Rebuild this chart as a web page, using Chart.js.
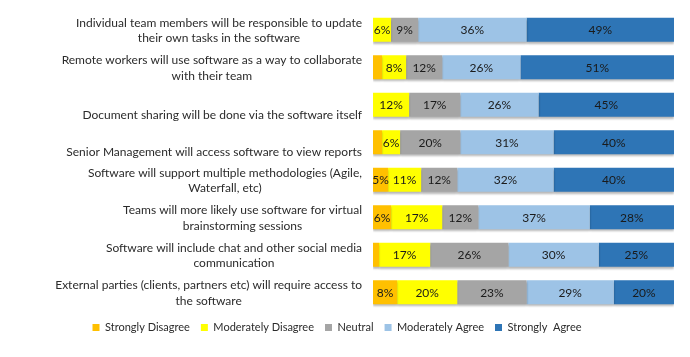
<!DOCTYPE html>
<html><head><meta charset="utf-8">
<script src="https://cdn.jsdelivr.net/npm/chart.js@4.4.0/dist/chart.umd.min.js"></script>
<style>html,body{margin:0;padding:0;background:#fff}#wrap{width:690px;height:357px;position:relative}</style>
</head><body><div id="wrap"><canvas id="c"></canvas></div>
<script>
const categories = [
  ["Individual team members will be responsible to update", "their own tasks in the software"],
  ["Remote workers will use software as a way to collaborate", "with their team"],
  ["Document sharing will be done via the software itself"],
  ["Senior Management will access software to view reports"],
  ["Software will support multiple methodologies (Agile,", "Waterfall, etc)"],
  ["Teams will more likely use software for virtual", "brainstorming sessions"],
  ["Software will include chat and other social media", "communication"],
  ["External parties (clients, partners etc) will require access to", "the software"]
];
const seriesNames = ["Strongly Disagree", "Moderately Disagree", "Neutral", "Moderately Agree", "Strongly  Agree"];
const stronglyDisagree   = [0, 3, 0, 3, 5, 6, 2, 8];
const moderatelyDisagree = [6, 8, 12, 6, 11, 17, 17, 20];
const neutral            = [9, 12, 17, 20, 12, 12, 26, 23];
const moderatelyAgree    = [36, 26, 26, 31, 32, 37, 30, 29];
const stronglyAgree      = [49, 51, 45, 40, 40, 28, 25, 20];
const seriesColors = ["#FFC000", "#FFFF00", "#A5A5A5", "#9DC3E6", "#2E75B6"];
const seriesValues = [stronglyDisagree, moderatelyDisagree, neutral, moderatelyAgree, stronglyAgree];

const FONT = "Lato";

const shadowPlugin = {
  id: 'barShadow',
  beforeDatasetsDraw(chart) {
    const ctx = chart.ctx;
    ctx.save();
    ctx.shadowColor = 'rgba(0,0,0,0.28)';
    ctx.shadowBlur = 2;
    ctx.shadowOffsetY = 2;
  },
  afterDatasetsDraw(chart) {
    chart.ctx.restore();
    const ctx = chart.ctx;
    ctx.save();
    ctx.font = "12px " + FONT;
    ctx.fillStyle = "#1a1a1a";
    ctx.textAlign = "center";
    ctx.textBaseline = "middle";
    chart.data.datasets.forEach((ds, di) => {
      const meta = chart.getDatasetMeta(di);
      meta.data.forEach((bar, i) => {
        const v = ds.data[i];
        if (v >= 5) ctx.fillText(v + "%", (bar.x + bar.base) / 2, bar.y + 0.5);
      });
    });
    ctx.restore();
  }
};

const labelPlugin = {
  id: 'catLabels',
  afterDraw(chart) {
    const ctx = chart.ctx, ys = chart.scales.y;
    ctx.save();
    ctx.font = "12px " + FONT;
    ctx.fillStyle = "#2b2b2b";
    ctx.textBaseline = "middle";
    ctx.textAlign = "center";
    const right = chart.chartArea.left - 11;
    categories.forEach((lines, i) => {
      const cy = ys.getPixelForValue(i);
      const w = Math.max(...lines.map(l => ctx.measureText(l).width));
      const cx = right - w / 2;
      if (lines.length === 1) ctx.fillText(lines[0], cx, cy + 10);
      else lines.forEach((l, j) => ctx.fillText(l, cx, cy + 1 + (j - 0.5) * 15.5));
    });
    ctx.restore();
  }
};

new Chart(document.getElementById('c'), {
  type: 'bar',
  data: {
    labels: categories.map(l => l.join(' ')),
    datasets: seriesNames.map((n, k) => ({
      label: n,
      data: seriesValues[k],
      backgroundColor: seriesColors[k],
      borderWidth: 0,
      categoryPercentage: 1,
      barPercentage: 0.64
    }))
  },
  options: {
    indexAxis: 'y',
    responsive: true,
    maintainAspectRatio: false,
    animation: false,
    layout: { padding: { top: 11, right: 16, left: 0, bottom: 14 } },
    scales: {
      x: { stacked: true, min: 0, max: 100, display: false },
      y: {
        stacked: true,
        grid: { display: false },
        border: { display: false },
        ticks: { display: false },
        afterFit(s) { s.width = 373; }
      }
    },
    plugins: {
      legend: {
        position: 'bottom',
        labels: {
          boxWidth: 7, boxHeight: 7, padding: 11,
          color: '#2b2b2b',
          font: { family: FONT, size: 11 }
        }
      },
      tooltip: { enabled: false }
    }
  },
  plugins: [shadowPlugin, labelPlugin]
});
</script></body></html>
